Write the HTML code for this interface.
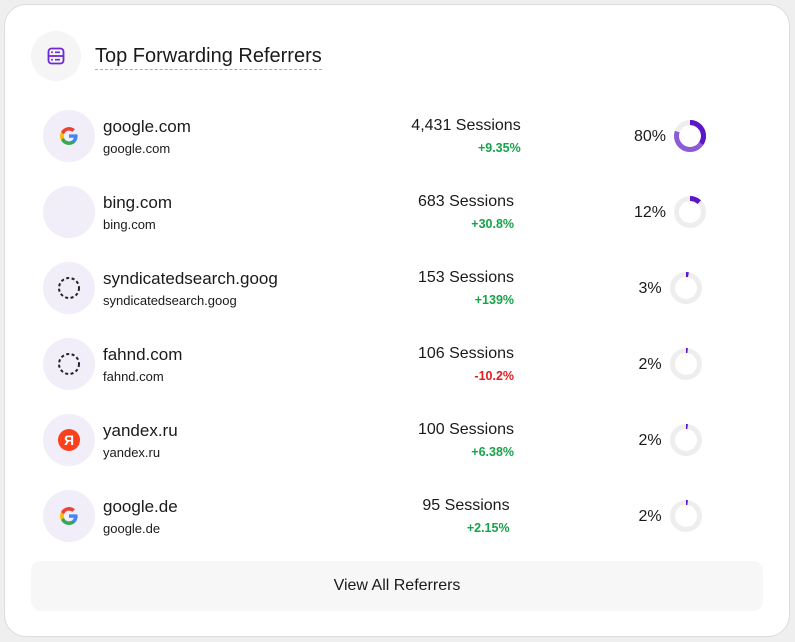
<!DOCTYPE html>
<html><head><meta charset="utf-8"><style>
*{margin:0;padding:0;box-sizing:border-box}
body{width:795px;height:642px;background:#efefef;font-family:"Liberation Sans",sans-serif;color:#1a1a1a;position:relative;overflow:hidden}
.card{position:absolute;left:4px;top:4px;width:786px;height:633px;background:#fff;border:1px solid #dcdcdc;border-radius:22px}
.hicon{position:absolute;left:31px;top:31px;width:50px;height:50px;border-radius:50%;background:#f5f5f5}
.title{position:absolute;left:95px;top:44px;font-size:20px;line-height:24px;border-bottom:1px dashed #aaa;padding-bottom:1px}
.row{position:absolute;left:0;width:795px;height:52px}
.av{position:absolute;left:43px;top:0;width:52px;height:52px;border-radius:50%;background:#f1edf9}
.av svg{position:absolute;left:14px;top:14px}
.name{position:absolute;left:103px;top:7px;font-size:17px;line-height:20px}
.sub{position:absolute;left:103px;top:31px;font-size:13px;line-height:16px}
.sess{position:absolute;left:366px;width:200px;top:6px;text-align:center}
.sess>div{display:inline-block;text-align:right}
.s1{font-size:16px;line-height:20px}
.s2{font-size:12.5px;line-height:16px;margin-top:4px;font-weight:bold}
.g{color:#17a34a}.r{color:#e11d1d}
.pct{position:absolute;left:570px;width:200px;top:10px;text-align:center;font-size:16px;line-height:32px;height:32px}
.pct span{display:inline-block;vertical-align:top;position:relative;top:1px}
.pct svg{vertical-align:top;margin-left:8px}
.btn{position:absolute;left:31px;top:561px;width:732px;height:50px;background:#f7f7f7;border-radius:10px;text-align:center;font-size:16px;line-height:50px}
</style></head><body>
<div class="card"></div>
<div class="hicon"><svg style="position:absolute;left:16px;top:16px" width="18" height="18" viewBox="0 0 18 18"><rect x="1.5" y="1.5" width="15" height="15" rx="3" fill="none" stroke="#6d28d9" stroke-width="1.8"/><line x1="1.5" y1="9" x2="16.5" y2="9" stroke="#6d28d9" stroke-width="1.8"/><circle cx="5" cy="5.3" r="1" fill="#6d28d9"/><circle cx="5" cy="12.7" r="1" fill="#6d28d9"/><line x1="8" y1="5.3" x2="13" y2="5.3" stroke="#6d28d9" stroke-width="1.6"/><line x1="8" y1="12.7" x2="13" y2="12.7" stroke="#6d28d9" stroke-width="1.6"/></svg></div>
<div class="title">Top Forwarding Referrers</div>

<div class="row" style="top:110px">
<div class="av"><svg width="24" height="24" viewBox="0 0 24 24"><path d="M20.6 12.2c0-.6-.1-1.2-.2-1.8H12v3.4h4.8a4.1 4.1 0 0 1-1.8 2.7v2.2h2.9c1.7-1.6 2.7-3.9 2.7-6.5z" fill="#4285F4"/><path d="M12 21c2.4 0 4.5-.8 5.9-2.2L15 16.5c-.8.5-1.8.9-3 .9-2.3 0-4.3-1.6-5-3.7H4v2.3A9 9 0 0 0 12 21z" fill="#34A853"/><path d="M7 13.7a5.4 5.4 0 0 1 0-3.4V8H4a9 9 0 0 0 0 8z" fill="#FBBC05"/><path d="M12 6.6c1.3 0 2.5.5 3.4 1.3l2.6-2.6A9 9 0 0 0 4 8l3 2.3c.7-2.1 2.7-3.7 5-3.7z" fill="#EA4335"/></svg></div>
<div class="name">google.com</div><div class="sub">google.com</div>
<div class="sess"><div><div class="s1">4,431 Sessions</div><div class="s2 g">+9.35%</div></div></div>
<div class="pct"><span>80%</span><svg width="32" height="32" viewBox="0 0 32 32"><circle cx="16" cy="16" r="13.5" fill="none" stroke="#eee" stroke-width="5"/><circle cx="16" cy="16" r="13.5" fill="none" stroke="#8b5cd6" stroke-width="5" stroke-dasharray="67.9 84.8" transform="rotate(-90 16 16)"/><circle cx="16" cy="16" r="13.5" fill="none" stroke="#5b16c8" stroke-width="5" stroke-dasharray="29 84.8" transform="rotate(-90 16 16)"/></svg></div>
</div>

<div class="row" style="top:186px">
<div class="av"></div>
<div class="name">bing.com</div><div class="sub">bing.com</div>
<div class="sess"><div><div class="s1">683 Sessions</div><div class="s2 g">+30.8%</div></div></div>
<div class="pct"><span>12%</span><svg width="32" height="32" viewBox="0 0 32 32"><circle cx="16" cy="16" r="13.5" fill="none" stroke="#eee" stroke-width="5"/><circle cx="16" cy="16" r="13.5" fill="none" stroke="#5b16c8" stroke-width="5" stroke-dasharray="10.2 84.8" transform="rotate(-90 16 16)"/></svg></div>
</div>

<div class="row" style="top:262px">
<div class="av"><svg width="24" height="24" viewBox="0 0 24 24"><circle cx="12" cy="12" r="10" fill="none" stroke="#222" stroke-width="2" stroke-dasharray="3 2.5"/></svg></div>
<div class="name">syndicatedsearch.goog</div><div class="sub">syndicatedsearch.goog</div>
<div class="sess"><div><div class="s1">153 Sessions</div><div class="s2 g">+139%</div></div></div>
<div class="pct"><span>3%</span><svg width="32" height="32" viewBox="0 0 32 32"><circle cx="16" cy="16" r="13.5" fill="none" stroke="#eee" stroke-width="5"/><circle cx="16" cy="16" r="13.5" fill="none" stroke="#5b16c8" stroke-width="5" stroke-dasharray="2.5 84.8" transform="rotate(-90 16 16)"/></svg></div>
</div>

<div class="row" style="top:338px">
<div class="av"><svg width="24" height="24" viewBox="0 0 24 24"><circle cx="12" cy="12" r="10" fill="none" stroke="#222" stroke-width="2" stroke-dasharray="3 2.5"/></svg></div>
<div class="name">fahnd.com</div><div class="sub">fahnd.com</div>
<div class="sess"><div><div class="s1">106 Sessions</div><div class="s2 r">-10.2%</div></div></div>
<div class="pct"><span>2%</span><svg width="32" height="32" viewBox="0 0 32 32"><circle cx="16" cy="16" r="13.5" fill="none" stroke="#eee" stroke-width="5"/><circle cx="16" cy="16" r="13.5" fill="none" stroke="#5b16c8" stroke-width="5" stroke-dasharray="1.7 84.8" transform="rotate(-90 16 16)"/></svg></div>
</div>

<div class="row" style="top:414px">
<div class="av"><svg width="24" height="24" viewBox="0 0 24 24"><circle cx="12" cy="12" r="11" fill="#fc3f1d"/><text x="12" y="17" text-anchor="middle" font-family="Liberation Sans,DejaVu Sans,sans-serif" font-size="14" font-weight="bold" fill="#fff">Я</text></svg></div>
<div class="name">yandex.ru</div><div class="sub">yandex.ru</div>
<div class="sess"><div><div class="s1">100 Sessions</div><div class="s2 g">+6.38%</div></div></div>
<div class="pct"><span>2%</span><svg width="32" height="32" viewBox="0 0 32 32"><circle cx="16" cy="16" r="13.5" fill="none" stroke="#eee" stroke-width="5"/><circle cx="16" cy="16" r="13.5" fill="none" stroke="#5b16c8" stroke-width="5" stroke-dasharray="1.7 84.8" transform="rotate(-90 16 16)"/></svg></div>
</div>

<div class="row" style="top:490px">
<div class="av"><svg width="24" height="24" viewBox="0 0 24 24"><path d="M20.6 12.2c0-.6-.1-1.2-.2-1.8H12v3.4h4.8a4.1 4.1 0 0 1-1.8 2.7v2.2h2.9c1.7-1.6 2.7-3.9 2.7-6.5z" fill="#4285F4"/><path d="M12 21c2.4 0 4.5-.8 5.9-2.2L15 16.5c-.8.5-1.8.9-3 .9-2.3 0-4.3-1.6-5-3.7H4v2.3A9 9 0 0 0 12 21z" fill="#34A853"/><path d="M7 13.7a5.4 5.4 0 0 1 0-3.4V8H4a9 9 0 0 0 0 8z" fill="#FBBC05"/><path d="M12 6.6c1.3 0 2.5.5 3.4 1.3l2.6-2.6A9 9 0 0 0 4 8l3 2.3c.7-2.1 2.7-3.7 5-3.7z" fill="#EA4335"/></svg></div>
<div class="name">google.de</div><div class="sub">google.de</div>
<div class="sess"><div><div class="s1">95 Sessions</div><div class="s2 g">+2.15%</div></div></div>
<div class="pct"><span>2%</span><svg width="32" height="32" viewBox="0 0 32 32"><circle cx="16" cy="16" r="13.5" fill="none" stroke="#eee" stroke-width="5"/><circle cx="16" cy="16" r="13.5" fill="none" stroke="#5b16c8" stroke-width="5" stroke-dasharray="1.7 84.8" transform="rotate(-90 16 16)"/></svg></div>
</div>

<div class="btn">View All Referrers</div>
</body></html>
